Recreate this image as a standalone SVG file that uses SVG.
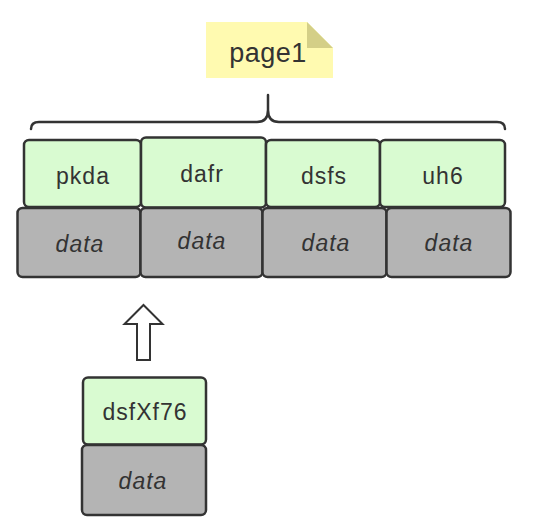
<svg xmlns="http://www.w3.org/2000/svg" width="538" height="528" viewBox="0 0 538 528">
<style>
.k{fill:#d9fbd1;stroke:#333;stroke-width:2.5}
.v{fill:#b4b4b4;stroke:#333;stroke-width:2.5}
.t{font-family:"Liberation Sans",Arial,sans-serif;font-size:23px;letter-spacing:1px;fill:#333;text-anchor:middle}
.i{font-style:italic}
.ln{fill:none;stroke:#333;stroke-width:2.5;stroke-linecap:round;stroke-linejoin:round}
</style>
<rect width="538" height="528" fill="#fff"/>
<g id="note">
<polygon points="206,22 307,22 333,48 333,78 206,78" fill="#fffab0"/>
<polygon points="307,22 307,48 333,48" fill="#d4cf87"/>
<text class="t" x="268" y="62" style="font-size:27px;letter-spacing:0.5px">page1</text>
</g>
<g id="connectors">
<path class="ln" d="M31,129 Q31,122 39,122 L257,122 Q268,122 268,110 L268,95 M268,110 Q268,122 279,122 L497,122 Q505,122 505,129"/>
<path d="M143.5,305 L162.5,324 L150,324 L150,360 L137,360 L137,324 L124.5,324 Z" fill="#fff" stroke="#333" stroke-width="2" stroke-linejoin="miter"/>
</g>
<g id="n1">
<rect class="k" x="24" y="140" width="117" height="67" rx="5"/>
<text class="t" x="83" y="184">pkda</text>
</g>
<g id="n2">
<rect class="k" x="141" y="137.5" width="125" height="70" rx="5"/>
<text class="t" x="202" y="182">dafr</text>
</g>
<g id="n3">
<rect class="k" x="266" y="140" width="114" height="67" rx="5"/>
<text class="t" x="324" y="184">dsfs</text>
</g>
<g id="n4">
<rect class="k" x="380" y="140" width="125" height="67" rx="5"/>
<text class="t" x="443" y="184">uh6</text>
</g>
<g id="d1">
<rect class="v" x="17.5" y="208" width="123" height="69" rx="5"/>
<text class="t i" x="80" y="252">data</text>
</g>
<g id="d2">
<rect class="v" x="140.5" y="208" width="122" height="69" rx="5"/>
<text class="t i" x="202" y="249">data</text>
</g>
<g id="d3">
<rect class="v" x="262.5" y="208" width="124" height="69" rx="5"/>
<text class="t i" x="326" y="251">data</text>
</g>
<g id="d4">
<rect class="v" x="386.5" y="208" width="124" height="69" rx="5"/>
<text class="t i" x="449" y="251">data</text>
</g>
<g id="n5">
<rect class="k" x="83" y="377.5" width="123" height="67" rx="5"/>
<text class="t" x="145" y="420">dsfXf76</text>
</g>
<g id="d5">
<rect class="v" x="82" y="445" width="124" height="70" rx="5"/>
<text class="t i" x="143" y="489">data</text>
</g>
</svg>
